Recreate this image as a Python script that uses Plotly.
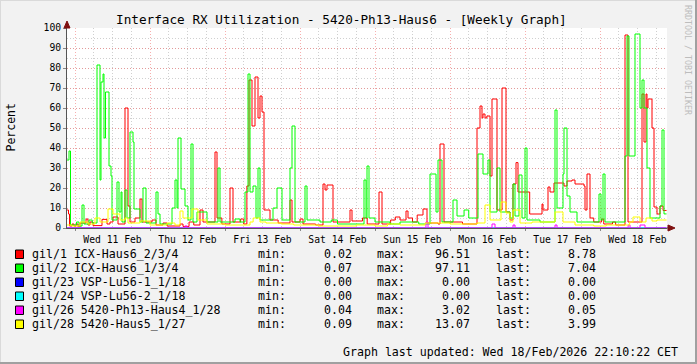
import plotly.graph_objects as go
import pandas as pd

# ---------------- data (hours since Wed 11 Feb 2026 00:00, value in %) ----------------
red_t = [-2.56, -2.08, -1.76, -0.96, -0.32, 0.32, 0.96, 1.6, 3.52, 4.16, 4.8, 5.76, 8.64, 10.24, 11.2, 12.16,
         13.76, 16.0, 16.96, 17.6, 19.2, 20.8, 21.44, 24.64, 25.92, 28.16, 29.44, 33.6, 34.56, 36.5, 38, 40.0,
         40.96, 44.8, 45.44, 47, 49.6, 50.56, 53, 54, 55.0, 55.68, 56.64, 57.6, 58.56, 59.2, 59.84, 60.48, 62.4,
         65, 68.8, 69.44, 72.0, 72.96, 77, 79.36, 80.0, 80.64, 82.56, 88.0, 88.64, 92, 93.5, 97.28, 98.24, 101,
         102.5, 104, 105.92, 106.56, 108, 109.5, 111.36, 112.64, 116.16, 116.8, 118.08, 124, 128.64, 129.6,
         130.24, 130.56, 131.2, 131.8, 132.8, 133.44, 135.04, 136.64, 137.92, 139.2, 140.16, 141.12, 141.76,
         145.5, 149.44, 149.76, 151.36, 152.0, 153.28, 156.48, 157.44, 159.04, 160.0, 162.88, 163.2, 163.84,
         164.8, 166, 168.5, 169.2, 172, 173, 176.0, 176.96, 181.44, 182.08, 182.72, 183.04, 183.36, 184.64,
         185.28, 186.24, 187.2, 188.16, 189.3]
red_v = [9, 7, 1, 2, 1, 2, 0.6, 2.5, 4.5, 1.5, 3, 1.2, 4.3, 2, 3, 5.5,
         2, 60, 11, 3, 5, 14.5, 3, 4, 1.5, 2.5, 1, 2, 0.8, 3, 1.5, 9,
         3, 38, 5, 2, 20, 3, 4.5, 2, 21, 74, 51, 75.5, 55, 66, 58, 9, 4,
         2.5, 14, 3, 4.5, 2, 1.5, 22, 19, 21.5, 3, 9, 3.5, 5, 2, 18, 2, 4,
         5.5, 4, 8.5, 5, 3, 6.5, 9.5, 2.5, 2, 42, 3, 2, 50, 61,
         55, 57, 55, 56, 26, 64.5, 9, 70, 8, 4, 22, 32.7, 18,
         7, 12, 9, 20.5, 18, 22.5, 21, 23.5, 24, 22, 21, 9, 27,
         5, 3, 4.5, 2, 3, 1.5, 96.5, 3, 67, 43, 67, 60, 64.5, 50,
         10.5, 7, 11, 8.78, 8.78]

green_t = [-2.56, -1.92, -1.44, 0.5, 1.3, 2.24, 2.88, 4.5, 5.5, 7.04, 8.0, 8.32, 8.96, 9.28, 9.76, 10.88,
           11.52, 11.84, 13.44, 14.08, 14.72, 15.04, 16.0, 16.64, 17.6, 18.56, 18.88, 20.8, 21.76, 22.72,
           25.92, 26.56, 27.2, 31.04, 32.0, 32.64, 32.96, 33.92, 35.2, 36.16, 37.12, 37.76, 39.04, 42.24,
           45.76, 46.4, 51.2, 52.8, 54.4, 55.36, 56.0, 56.96, 57.92, 58.56, 59.2, 63.36, 64.64, 66.24, 68.8,
           69.44, 70.4, 73.6, 74.24, 78.4, 82, 84, 92.48, 93.12, 93.44, 94.08, 96.0, 100.8, 104, 110, 113.6,
           115.52, 116.16, 117.44, 120.96, 122.24, 124.5, 126, 128.96, 130.56, 132.16, 132.8, 135.04, 136.0,
           139.2, 140.16, 140.8, 142.08, 143.04, 144.0, 144.64, 148.8, 153.6, 154.24, 156.16, 156.48, 157.44,
           158.4, 160.64, 167.68, 168.32, 168.96, 169.6, 176.0, 176.64, 177.28, 179.2, 180.8, 181.44, 182.08,
           183.04, 184.0, 187.2, 187.84, 188.48, 189.3]
green_v = [34, 38.5, 1.5, 3, 1, 11.5, 2, 4, 2.5, 81.5, 24, 73, 77, 45, 68, 31,
           26, 4, 23, 8, 18, 3, 19, 5, 48, 43, 9.5, 3, 20, 2.5,
           18, 7, 2, 10, 24, 10, 45, 19.5, 11, 4, 42, 3, 8, 3,
           30, 3, 4.5, 3, 18, 77, 18, 21, 5, 30, 4, 10, 20, 4, 30,
           51, 3, 21, 4, 3, 4, 2, 24, 5, 31, 5, 3, 2, 3, 2, 27,
           8, 34, 3, 14, 6, 9, 5, 37, 27, 34, 8, 30, 8,
           5, 22, 6, 26.5, 5, 40, 4, 3, 59, 10, 27, 50, 16,
           8, 3, 17, 4, 27, 3, 36, 96, 36, 97, 60, 74, 60,
           30, 5, 11, 49, 7.04, 7.04]

blue_t = [-2.56, 189.3]
blue_v = [0, 0]

cyan_t = [-2.56, 189.3]
cyan_v = [0, 0]

magenta_t = [-2.56, 35.2, 35.84, 112.3, 112.96, 133.44, 134.4, 140.16, 140.8, 153.6, 154.24, 177, 177.6,
             180.8, 182.4, 189.3]
magenta_v = [0.05, 1, 0.05, 3.02, 0.05, 2, 0.05, 1.5, 0.05, 1.5, 0.05, 1.5, 0.05, 1.5, 0.05, 0.05]

yellow_t = [-2.56, -0.96, 1.6, 4.16, 6.4, 8.0, 10.56, 12.16, 14.4, 16.0, 16.96, 20.8, 24, 29.44, 32.0,
            33.6, 34.56, 37.44, 39.36, 42.24, 48, 56.0, 57.0, 59.2, 61.12, 66, 70, 78, 90, 96, 100, 104,
            112, 120, 128.64, 131.2, 132.8, 136.32, 137.92, 139.2, 140.16, 142.4, 146.24, 153.6, 156.16,
            160, 166, 170, 177.5, 178.56, 180.8, 182.72, 184.64, 186.24, 188.48, 189.3]
yellow_v = [1.5, 1, 3, 2, 5, 3, 9.5, 7, 4, 5, 2.5, 3.5, 1.5, 2.5, 1.5,
            8.5, 5, 9.5, 4, 2, 1.5, 3, 5, 3, 2.5, 2, 1.5, 1, 1.5, 1, 2, 1.5,
            2.5, 2, 2.5, 11.5, 4, 13, 7.5, 3, 9, 2.5, 3, 8, 3,
            1.5, 1, 1.5, 3, 5.5, 3, 5, 3.5, 4, 3.99, 3.99]

series_names = ["gil/1 ICX-Haus6_2/3/4", "gil/2 ICX-Haus6_1/3/4", "gil/23 VSP-Lu56-1_1/18",
                "gil/24 VSP-Lu56-2_1/18", "gil/26 5420-Ph13-Haus4_1/28", "gil/28 5420-Haus5_1/27"]
series_colors = ["#FF0000", "#00FF00", "#0000FF", "#00FFFF", "#FF00FF", "#FFFF00"]
stat_min = ["0.02", "0.07", "0.00", "0.00", "0.04", "0.09"]
stat_max = ["96.51", "97.11", "0.00", "0.00", "3.02", "13.07"]
stat_last = ["8.78", "7.04", "0.00", "0.00", "0.05", "3.99"]

y_ticks = [0, 10, 20, 30, 40, 50, 60, 70, 80, 90, 100]

# ---------------- figure ----------------
W, H = 697, 364
ML, MT, PW, PH = 67, 28, 600, 200
FONT = "DejaVu Sans Mono"

base = pd.Timestamp("2026-02-11 00:00")
def tt(hours):
    return base + pd.to_timedelta(hours, unit="h")

def px(x):
    return (x - ML) / PW

def py(y):
    return (MT + PH - y) / PH

fig = go.Figure()
all_t = [red_t, green_t, blue_t, cyan_t, magenta_t, yellow_t]
all_v = [red_v, green_v, blue_v, cyan_v, magenta_v, yellow_v]
for t, v, name, col in zip(all_t, all_v, series_names, series_colors):
    fig.add_trace(go.Scatter(x=tt(pd.Series(t)), y=v, mode="lines", name=name,
                             line=dict(color=col, width=1, shape="hv"), showlegend=False,
                             hoverinfo="skip"))

grid_major = "rgba(240,110,110,0.55)"
grid_minor = "rgba(150,150,150,0.45)"

fig.update_xaxes(
    type="date",
    range=[tt(-2.56), tt(189.44)],
    tick0=base, dtick=86400000,
    ticklabelmode="period", tickformat="%a %d %b",
    showgrid=True, gridcolor=grid_major, griddash="1px,2px", gridwidth=1,
    minor=dict(dtick=6 * 3600000, tick0=base, showgrid=True, gridcolor=grid_minor,
               griddash="1px,2px", gridwidth=1),
    showline=True, linecolor="#555555", linewidth=1,
    ticks="outside", ticklen=2, tickcolor="#888888",
    tickfont=dict(family=FONT, size=9.7, color="#000000"),
    zeroline=False, fixedrange=True,
)
fig.update_yaxes(
    range=[0, 100], tickvals=y_ticks,
    showgrid=True, gridcolor=grid_major, griddash="1px,2px", gridwidth=1,
    minor=dict(dtick=5, showgrid=True, gridcolor=grid_minor, griddash="1px,2px", gridwidth=1),
    showline=True, linecolor="#555555", linewidth=1,
    ticks="outside", ticklen=3, tickcolor="#888888",
    tickfont=dict(family=FONT, size=9.7, color="#000000"),
    zeroline=False, fixedrange=True,
)

shapes = []
ann = []

# axis arrows
shapes.append(dict(type="path", xref="paper", yref="paper",
                   path=f"M {px(64)} {py(28)} L {px(70)} {py(28)} L {px(67)} {py(21)} Z",
                   fillcolor="#7F1010", line=dict(color="#7F1010", width=1)))
shapes.append(dict(type="line", xref="paper", yref="paper", x0=1, x1=px(669), y0=0, y1=0,
                   line=dict(color="#555555", width=1)))
shapes.append(dict(type="path", xref="paper", yref="paper",
                   path=f"M {px(668)} {py(225)} L {px(668)} {py(231)} L {px(675)} {py(228)} Z",
                   fillcolor="#7F1010", line=dict(color="#7F1010", width=1)))

# frame around image
shapes.append(dict(type="line", xref="paper", yref="paper", x0=px(0), x1=px(697), y0=py(0.5), y1=py(0.5),
                   line=dict(color="#DADADA", width=1)))
shapes.append(dict(type="line", xref="paper", yref="paper", x0=px(0.5), x1=px(0.5), y0=py(0), y1=py(364),
                   line=dict(color="#DADADA", width=1)))
shapes.append(dict(type="line", xref="paper", yref="paper", x0=px(0), x1=px(697), y0=py(363), y1=py(363),
                   line=dict(color="#A0A0A0", width=2)))
shapes.append(dict(type="line", xref="paper", yref="paper", x0=px(696), x1=px(696), y0=py(0), y1=py(364),
                   line=dict(color="#A0A0A0", width=2)))

# title
ann.append(dict(text="Interface RX Utilization - 5420-Ph13-Haus6 - [Weekly Graph]",
                x=px(341), y=py(19), xref="paper", yref="paper", showarrow=False,
                xanchor="center", yanchor="middle", font=dict(family=FONT, size=12.7, color="#000000")))
# y axis title
ann.append(dict(text="Percent", x=px(10.5), y=py(128), xref="paper", yref="paper", showarrow=False,
                textangle=-90, xanchor="center", yanchor="middle",
                font=dict(family=FONT, size=11.5, color="#000000")))
# watermark
ann.append(dict(text="RRDTOOL / TOBI OETIKER", x=px(688), y=py(60), xref="paper", yref="paper",
                showarrow=False, textangle=90, xanchor="center", yanchor="middle",
                font=dict(family=FONT, size=8.3, color="#BDBDBD")))

# legend
row_y = [254, 268, 282, 296, 310, 324]
lf = dict(family=FONT, size=11.6, color="#000000")
for i in range(6):
    yc = row_y[i]
    shapes.append(dict(type="rect", xref="paper", yref="paper", x0=px(15.5), x1=px(23.5),
                       y0=py(yc - 4), y1=py(yc + 4.5), fillcolor=series_colors[i],
                       line=dict(color="#000000", width=1)))
    for txt, xx, anc in [(series_names[i], 30, "left"), ("min:", 256, "left"), (stat_min[i], 354, "right"),
                         ("max:", 375, "left"), (stat_max[i], 472, "right"), ("last:", 494, "left"),
                         (stat_last[i], 598, "right")]:
        ann.append(dict(text=txt, x=px(xx), y=py(yc), xref="paper", yref="paper", showarrow=False,
                        xanchor=anc, yanchor="middle", font=lf))

ann.append(dict(text="Graph last updated: Wed 18/Feb/2026 22:10:22 CET", x=px(680), y=py(352),
                xref="paper", yref="paper", showarrow=False, xanchor="right", yanchor="middle", font=lf))

fig.update_layout(
    width=W, height=H,
    margin=dict(l=ML, r=W - ML - PW, t=MT, b=H - MT - PH, pad=0),
    paper_bgcolor="#F2F2F2", plot_bgcolor="#FFFFFF",
    shapes=shapes, annotations=ann, showlegend=False,
)

fig.write_html("out.html", config={"displayModeBar": False},
               post_script="document.body.style.margin='0px';document.body.style.overflow='hidden';")
